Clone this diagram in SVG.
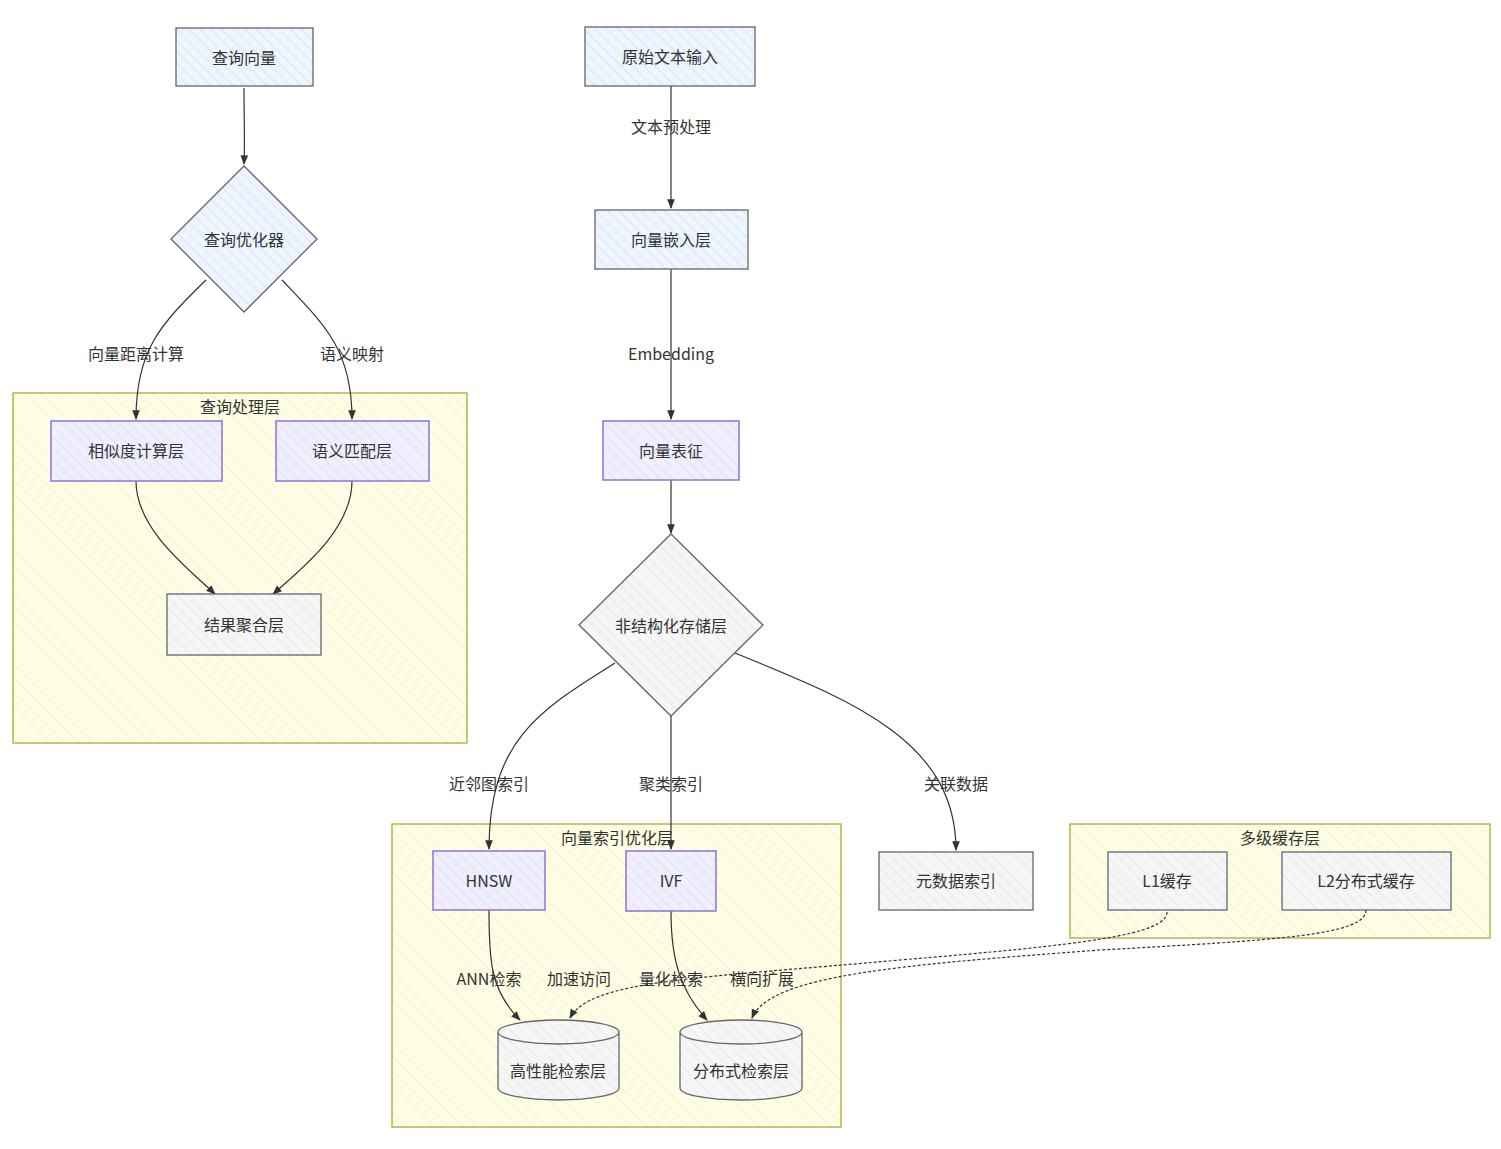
<svg xmlns="http://www.w3.org/2000/svg" width="1501" height="1149" viewBox="0 0 1501 1149">
<defs>
<pattern id="hb" width="8" height="8" patternUnits="userSpaceOnUse" patternTransform="rotate(-45)"><rect width="8" height="8" fill="#eef5fe"/><line x1="0" y1="0" x2="0" y2="8" stroke="#d3e6fb" stroke-width="2"/></pattern>
<pattern id="hp" width="8" height="8" patternUnits="userSpaceOnUse" patternTransform="rotate(-45)"><rect width="8" height="8" fill="#efefff"/><line x1="0" y1="0" x2="0" y2="8" stroke="#e0e0f6" stroke-width="2"/></pattern>
<pattern id="hy" width="10" height="10" patternUnits="userSpaceOnUse" patternTransform="rotate(-45)"><rect width="10" height="10" fill="#fefee6"/><line x1="0" y1="0" x2="0" y2="10" stroke="#f4f4c8" stroke-width="2"/></pattern>
<pattern id="hg" width="8" height="8" patternUnits="userSpaceOnUse" patternTransform="rotate(-45)"><rect width="8" height="8" fill="#f6f6f6"/><line x1="0" y1="0" x2="0" y2="8" stroke="#e8e8e8" stroke-width="2"/></pattern>
<marker id="a" viewBox="0 0 10 10" refX="9" refY="5" markerWidth="8" markerHeight="8" orient="auto"><path d="M0,1 L10,5 L0,9 z" fill="#333"/></marker>
</defs>
<style>
text{font-family:"Noto Sans CJK SC","Liberation Sans",sans-serif;font-size:16px;fill:#333;text-anchor:middle;dominant-baseline:central}
.bl{fill:url(#hb);stroke:#666;stroke-width:1.3}
.pu{fill:url(#hp);stroke:#9370DB;stroke-width:1.5}
.gr{fill:url(#hg);stroke:#666;stroke-width:1.3}
.cl{fill:url(#hy);stroke:#aaaa33;stroke-width:1.3}
.e{fill:none;stroke:#333;stroke-width:1.2;marker-end:url(#a)}
.d{stroke-dasharray:3 2}
.lb{fill:#fff;opacity:0}
</style>
<rect width="1501" height="1149" fill="#fff"/>
<g id="cluster-query"><rect class="cl" x="13" y="393" width="454" height="350"/><text x="240" y="406">查询处理层</text></g>
<g id="cluster-index"><rect class="cl" x="392" y="824" width="449" height="303"/><text x="617" y="837">向量索引优化层</text></g>
<g id="cluster-cache"><rect class="cl" x="1070" y="824" width="420" height="114"/><text x="1280" y="837">多级缓存层</text></g>
<g id="connectors">
<path class="e" d="M244,88 C244,120 245,140 244,164"/>
<path class="e" d="M206,280 C160,325 136,350 136,419"/>
<path class="e" d="M282,280 C325,325 352,350 352,419"/>
<path class="e" d="M136,481 C136,530 190,570 215,594"/>
<path class="e" d="M352,481 C352,530 300,570 273,594"/>
<path class="e" d="M671,86 L671,208"/>
<path class="e" d="M671,269 L671,419"/>
<path class="e" d="M671,480 L671,533"/>
<path class="e" d="M615,663 C540,710 489,740 489,849"/>
<path class="e" d="M671,716 L671,849"/>
<path class="e" d="M735,653 C850,700 956,740 956,850"/>
<path class="e" d="M489,910 C489,960 490,990 520,1020"/>
<path class="e" d="M671,911 C671,960 680,990 707,1020"/>
<path class="e d" d="M1167,912 C1167,935 1080,945 900,960 C700,978 590,980 570,1018"/>
<path class="e d" d="M1366,910 C1366,935 1280,940 1100,950 C900,965 770,975 752,1018"/>
<text x="136" y="353">向量距离计算</text>
<text x="352" y="353">语义映射</text>
<text x="671" y="126">文本预处理</text>
<text x="671" y="353">Embedding</text>
<text x="489" y="783">近邻图索引</text>
<text x="671" y="783">聚类索引</text>
<text x="956" y="783">关联数据</text>
<text x="489" y="978">ANN检索</text>
<text x="579" y="978">加速访问</text>
<text x="671" y="978">量化检索</text>
<text x="762" y="978">横向扩展</text>
</g>
<g id="n-qv"><rect class="bl" x="176" y="28" width="137" height="58"/><text x="244" y="57">查询向量</text></g>
<g id="n-opt"><polygon class="bl" points="244,166 317,239 244,312 171,239"/><text x="244" y="239">查询优化器</text></g>
<g id="n-sim"><rect class="pu" x="51" y="421" width="171" height="60"/><text x="136" y="450">相似度计算层</text></g>
<g id="n-sem"><rect class="pu" x="276" y="421" width="153" height="60"/><text x="352" y="450">语义匹配层</text></g>
<g id="n-agg"><rect class="gr" x="167" y="594" width="154" height="61"/><text x="244" y="624">结果聚合层</text></g>
<g id="n-raw"><rect class="bl" x="585" y="27" width="170" height="59"/><text x="670" y="56">原始文本输入</text></g>
<g id="n-emb"><rect class="bl" x="595" y="210" width="153" height="59"/><text x="671" y="239">向量嵌入层</text></g>
<g id="n-rep"><rect class="pu" x="603" y="421" width="136" height="59"/><text x="671" y="450">向量表征</text></g>
<g id="n-store"><polygon class="gr" points="671,534 763,625 671,716 579,625"/><text x="671" y="625">非结构化存储层</text></g>
<g id="n-hnsw"><rect class="pu" x="433" y="851" width="112" height="59"/><text x="489" y="880">HNSW</text></g>
<g id="n-ivf"><rect class="pu" x="626" y="851" width="90" height="60"/><text x="671" y="880">IVF</text></g>
<g id="n-meta"><rect class="gr" x="879" y="852" width="154" height="58"/><text x="956" y="880">元数据索引</text></g>
<g id="n-l1"><rect class="gr" x="1108" y="852" width="119" height="58"/><text x="1167" y="880">L1缓存</text></g>
<g id="n-l2"><rect class="gr" x="1282" y="852" width="169" height="58"/><text x="1366" y="880">L2分布式缓存</text></g>
<g id="n-hp"><path class="gr" d="M498,1032 L498,1088 A60.5,12 0 0 0 619,1088 L619,1032 A60.5,12 0 0 0 498,1032 A60.5,12 0 0 0 619,1032"/><text x="558" y="1070">高性能检索层</text></g>
<g id="n-dist"><path class="gr" d="M680,1032 L680,1088 A61,12 0 0 0 802,1088 L802,1032 A61,12 0 0 0 680,1032 A61,12 0 0 0 802,1032"/><text x="741" y="1070">分布式检索层</text></g>
</svg>
